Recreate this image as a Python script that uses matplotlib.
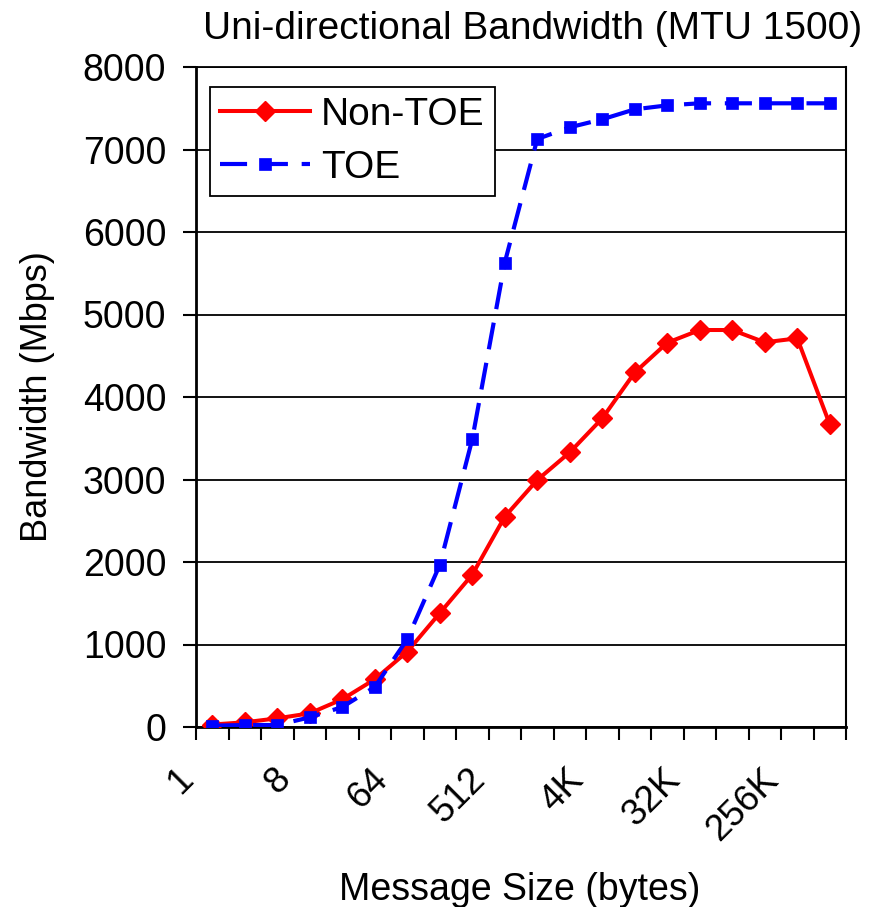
import matplotlib
matplotlib.use("Agg")
import matplotlib.pyplot as plt
import matplotlib.transforms as mtrans
from matplotlib.ticker import FixedLocator, MultipleLocator

plt.rcParams["font.family"] = ["Liberation Sans", "DejaVu Sans"]

# ----------------------------------------------------------
# Data: message sizes 1 B .. 512 KB, bandwidth in Mbps
# ----------------------------------------------------------
msg_sizes = ["1", "2", "4", "8", "16", "32", "64", "128", "256", "512",
             "1K", "2K", "4K", "8K", "16K", "32K", "64K", "128K", "256K", "512K"]

non_toe = [30, 57, 105, 166, 336, 578, 913, 1380, 1846, 2549,
           2994, 3329, 3741, 4297, 4658, 4812, 4812, 4663, 4711, 3669]

toe = [16, 24, 24, 117, 242, 485, 1063, 1964, 3487, 5628,
       7127, 7269, 7366, 7487, 7535, 7560, 7560, 7560, 7560, 7560]

label_step = 3
y_max = 8000
y_step = 1000

# ----------------------------------------------------------
# Figure
# ----------------------------------------------------------
fig = plt.figure(figsize=(8.84, 9.07), dpi=100)
ax = fig.add_axes([196 / 884, 1 - 727 / 907, 650 / 884, 660 / 907])

x = list(range(len(msg_sizes)))

ax.plot(x, non_toe, color="red", linewidth=2.9, marker="D",
        markersize=10.5, markeredgewidth=1, markeredgecolor="red",
        label="Non-TOE", zorder=3)
ax.plot(x, toe, color="blue", linewidth=3, marker="s",
        markersize=8, markeredgewidth=0.5, markeredgecolor="blue",
        dashes=(6.5, 3.3), label="TOE", zorder=4)

# ---- y axis
ax.set_ylim(0, y_max)
ax.yaxis.set_major_locator(MultipleLocator(y_step))
ax.grid(axis="y", color="black", linewidth=1.3)
ax.tick_params(axis="y", direction="out", length=9.5, width=1.5,
               labelsize=27, pad=12)

# ---- x axis: tick marks between categories, labels every third size
ax.set_xlim(-0.5, len(msg_sizes) - 0.5)
ax.xaxis.set_minor_locator(FixedLocator([i - 0.5 for i in range(len(msg_sizes) + 1)]))
ax.set_xticks(x[::label_step])
ax.set_xticklabels(msg_sizes[::label_step], rotation=45, ha="right", va="top")
ax.tick_params(axis="x", which="major", length=0, labelsize=26.5, pad=25)
ax.tick_params(axis="x", which="minor", direction="out", length=9.5, width=1.5)

shift = mtrans.ScaledTranslation(-12 / 100, 0, fig.dpi_scale_trans)
for lbl in ax.get_xticklabels():
    lbl.set_transform(lbl.get_transform() + shift)

for side in ["left", "bottom"]:
    ax.spines[side].set_linewidth(2)
ax.spines["right"].set_linewidth(1.5)
ax.spines["top"].set_linewidth(1.3)

# ---- text
fig.text(533 / 884, 1 - 39 / 907, "Uni-directional Bandwidth (MTU 1500)",
         ha="center", va="baseline", fontsize=28)
fig.text(38 / 884, 1 - 397 / 907, "Bandwidth (Mbps)", rotation=90,
         ha="center", va="center", fontsize=26)
fig.text(520 / 884, 1 - 900 / 907, "Message Size (bytes)",
         ha="center", va="baseline", fontsize=27)

# ---- legend
leg = ax.legend(loc="upper left", bbox_to_anchor=(210 / 884, 1 - 87 / 907),
                bbox_transform=fig.transFigure, borderaxespad=0,
                fontsize=28, handlelength=2.3, handletextpad=0.3,
                labelspacing=0.43, borderpad=0.26, fancybox=False,
                framealpha=1, edgecolor="black")
leg.get_frame().set_linewidth(1.3)

fig.savefig("out.png", dpi=100, facecolor="white")
